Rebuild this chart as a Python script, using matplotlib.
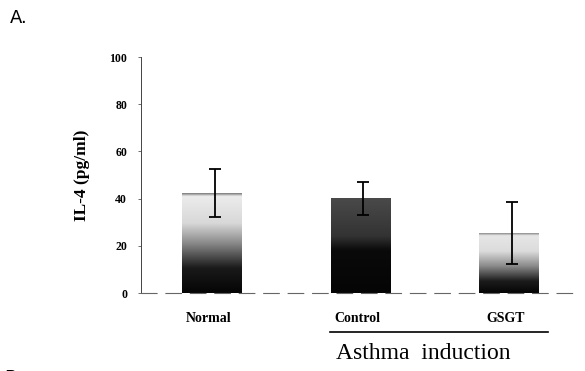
import numpy as np
import matplotlib.pyplot as plt
from matplotlib.colors import LinearSegmentedColormap

# IL-4 levels
groups = ["Normal", "Control", "GSGT"]
il4_mean = [42.2, 40.1, 25.3]
il4_err = [10.2, 7.1, 13.1]
yticks = [0, 20, 40, 60, 80, 100]

# grey ramps for each bar (bottom -> top)
shade_stops = [
    [(0.0, "#050505"), (0.25, "#1a1a1a"), (0.5, "#8a8a8a"), (0.7, "#d8d8d8"), (0.97, "#ececec"), (1.0, "#7a7a7a")],
    [(0.0, "#050505"), (0.45, "#0a0a0a"), (0.6, "#333333"), (1.0, "#4a4a4a")],
    [(0.0, "#050505"), (0.2, "#1c1c1c"), (0.45, "#8a8a8a"), (0.7, "#dcdcdc"), (0.96, "#e6e6e6"), (1.0, "#8a8a8a")],
]

plt.rcParams['font.family'] = ['Liberation Serif', 'DejaVu Serif']

fig = plt.figure(figsize=(5.85, 3.71), dpi=100)
ax = fig.add_axes([141 / 585, 1 - 293 / 371, 439 / 585, 236 / 371])

x = np.arange(len(groups))
width = 0.404
bars = ax.bar(x, il4_mean, width=width, color="none", edgecolor="none", zorder=2)

# gradient fill clipped to each bar
for bar, stops in zip(bars, shade_stops):
    cmap = LinearSegmentedColormap.from_list("g", stops)
    grad = np.linspace(0, 1, 256).reshape(-1, 1)
    x0, y0 = bar.get_x(), bar.get_y()
    im = ax.imshow(grad, cmap=cmap, origin="lower", aspect="auto",
                   extent=[x0, x0 + bar.get_width(), y0, y0 + bar.get_height()],
                   zorder=1, interpolation="bilinear")
    im.set_clip_path(bar)

ax.errorbar(x + 0.02, il4_mean, yerr=il4_err, fmt="none", ecolor="black",
            elinewidth=1.3, capsize=4, capthick=1.3, zorder=3)

ax.set_xlim(-0.478, 2.478)
ax.set_ylim(0, 100)
ax.set_yticks(yticks)
ax.set_yticklabels([str(t) for t in yticks], fontsize=8.5, fontweight="bold")
ax.tick_params(axis="y", length=2, width=0.6, pad=8, color="#555555")
ax.set_xticks([])

for s in ["top", "right"]:
    ax.spines[s].set_visible(False)
ax.spines["left"].set_color("#444444")
ax.spines["left"].set_linewidth(0.7)
ax.spines["bottom"].set_color("#666666")
ax.spines["bottom"].set_linewidth(0.8)
ax.spines["bottom"].set_linestyle((0, (14, 8)))

ax.set_ylabel("IL-4 (pg/ml)", fontsize=12.5, fontweight="bold", labelpad=14)

# group labels under the axis
for xi, name in zip(x, groups):
    ax.text(xi - 0.02, -10.8, name, ha="center", va="center", fontsize=10,
            fontweight="bold", transform=ax.transData, clip_on=False)

ax.plot([0.794, 2.262], [-16.5, -16.5], color="black", lw=1.2, clip_on=False)
ax.text(1.42, -25.5, "Asthma  induction", ha="center", va="center",
        fontsize=17, clip_on=False)

fig.text(10 / 585, 1 - 18 / 371, "A.", fontsize=13, family="DejaVu Sans",
         ha="left", va="center")
fig.text(4 / 585, 1 - 378 / 371, "B.", fontsize=13, family="DejaVu Sans",
         ha="left", va="center")

fig.savefig("out.png", dpi=100)
